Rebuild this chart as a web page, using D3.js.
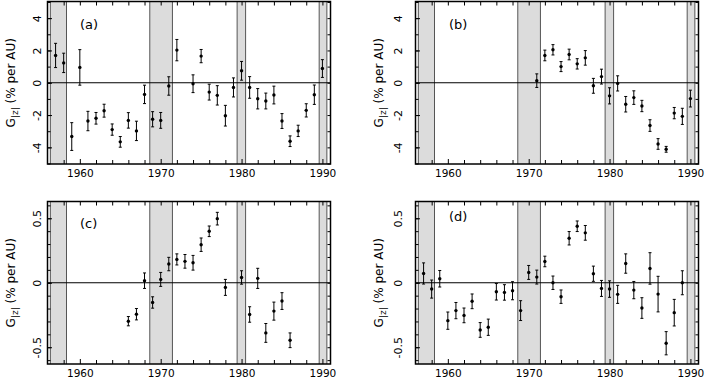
<!DOCTYPE html>
<html>
<head>
<meta charset="utf-8">
<script src="https://cdn.jsdelivr.net/npm/d3@7"></script>
<style>
  body { margin: 0; background: #fff; }
  svg text { font-family: "DejaVu Sans", sans-serif; fill: #000; }
</style>
</head>
<body>
<svg width="707" height="381"></svg>
<script>
// annual gradient values, panel (a)
var yearsA = [1957,1958,1959,1960,1961,1962,1963,1964,1965,1966,1967,1968,1969,1970,1971,1972,
              1974,1975,1976,1977,1978,1979,1980,1981,1982,1983,1984,1985,1986,1987,1988,1989,1990];
var valuesA = [1.69,1.23,-3.33,0.95,-2.37,-2.2,-1.73,-2.9,-3.66,-2.33,-2.98,-0.72,-2.26,-2.33,-0.2,2.02,
               -0.06,1.65,-0.58,-0.78,-2.04,-0.29,0.74,-0.29,-0.99,-1.13,-0.76,-2.37,-3.62,-2.98,-1.71,-0.74,0.88];
var errorsA = [0.75,0.6,0.86,1.1,0.6,0.36,0.4,0.35,0.33,0.48,0.6,0.57,0.47,0.49,0.57,0.66,
               0.55,0.41,0.49,0.6,0.64,0.59,0.58,0.67,0.63,0.49,0.55,0.46,0.33,0.35,0.41,0.6,0.55];

// panel (b)
var yearsB = [1971,1972,1973,1974,1975,1976,1977,1978,1979,1980,1981,1982,1983,1984,1985,1986,1987,1988,1989,1990];
var valuesB = [0.13,1.69,2.04,1.0,1.75,1.17,1.54,-0.19,0.38,-0.81,-0.04,-1.33,-0.92,-1.44,-2.65,-3.79,-4.12,-1.88,-2.08,-0.98];
var errorsB = [0.42,0.33,0.32,0.31,0.33,0.32,0.45,0.46,0.46,0.5,0.47,0.48,0.42,0.35,0.36,0.33,0.18,0.35,0.5,0.52];

// panel (c)
var yearsC = [1966,1967,1968,1969,1970,1971,1972,1973,1974,1975,1976,1977,1978,1980,1981,1982,1983,1984,1985,1986];
var valuesC = [-0.298,-0.244,0.016,-0.153,0.026,0.145,0.181,0.166,0.155,0.295,0.399,0.497,-0.036,
               0.041,-0.246,0.034,-0.389,-0.22,-0.142,-0.446];
var errorsC = [0.036,0.044,0.06,0.044,0.054,0.052,0.043,0.053,0.057,0.052,0.041,0.049,0.062,
               0.052,0.06,0.078,0.073,0.07,0.065,0.057];

// panel (d)
var yearsD = [1957,1958,1959,1960,1961,1962,1963,1964,1965,1966,1967,1968,1969,1970,1971,1972,1973,
              1974,1975,1976,1977,1978,1979,1980,1981,1982,1983,1984,1985,1986,1987,1988,1989];
var valuesD = [0.072,-0.049,0.031,-0.294,-0.216,-0.253,-0.144,-0.366,-0.345,-0.07,-0.075,-0.062,-0.216,
               0.08,0.044,0.165,0.0,-0.108,0.345,0.438,0.387,0.07,-0.044,-0.049,-0.09,0.149,-0.057,
               -0.196,0.111,-0.088,-0.469,-0.232,0.0];
var errorsD = [0.082,0.07,0.064,0.067,0.063,0.057,0.057,0.057,0.063,0.064,0.06,0.07,0.077,0.054,0.054,
               0.041,0.052,0.052,0.052,0.041,0.057,0.059,0.062,0.064,0.07,0.075,0.067,0.08,0.122,0.138,
               0.09,0.103,0.093];

// shaded periods (years)
var bands = [[1956.35, 1958.35], [1968.65, 1971.45], [1979.45, 1980.5], [1989.6, 1990.55]];

var xMinorYears = [1958, 1962, 1964, 1966, 1968, 1972, 1974, 1976, 1978, 1982, 1984, 1986, 1988];
var xLabelYears = [1960, 1970, 1980, 1990];

var svg = d3.select('svg');
var panelW = 283, panelH = 162.5;

var panels = [
  {tag: '(a)', years: yearsA, values: valuesA, errors: errorsA, left: 47.5, top: 1.5, yMax: 5.03,
   yMinor: d3.range(-5, 6, 1), yMajor: [-4, -2, 0, 2, 4], labelGap: 7, tagX: 32.5, tagY: 27},
  {tag: '(b)', years: yearsB, values: valuesB, errors: errorsB, left: 415.5, top: 1.5, yMax: 5.03,
   yMinor: d3.range(-5, 6, 1), yMajor: [-4, -2, 0, 2, 4], labelGap: 13.5, tagX: 33.5, tagY: 27},
  {tag: '(c)', years: yearsC, values: valuesC, errors: errorsC, left: 47.5, top: 201.5, yMax: 0.63,
   yMinor: d3.range(-6, 7, 1).map(function(d) { return d / 10; }), yMajor: [-0.5, 0, 0.5], labelGap: 7, tagX: 32.5, tagY: 26.5},
  {tag: '(d)', years: yearsD, values: valuesD, errors: errorsD, left: 415.5, top: 201.5, yMax: 0.63,
   yMinor: d3.range(-6, 7, 1).map(function(d) { return d / 10; }), yMajor: [-0.5, 0, 0.5], labelGap: 13.5, tagX: 33.5, tagY: 19}
];

function noDomain(sel) { sel.select('.domain').remove(); sel.selectAll('line').attr('stroke', '#000'); }

panels.forEach(function(p) {
  var x = d3.scaleLinear().domain([1956, 1991]).range([0, panelW]);
  var y = d3.scaleLinear().domain([-p.yMax, p.yMax]).range([panelH, 0]);
  var g = svg.append('g').attr('transform', 'translate(' + p.left + ',' + p.top + ')');

  // shaded periods
  g.selectAll('rect.band').data(bands).enter().append('rect')
    .attr('class', 'band')
    .attr('x', function(d) { return x(d[0]); })
    .attr('width', function(d) { return x(d[1]) - x(d[0]); })
    .attr('y', 0).attr('height', panelH)
    .attr('fill', '#dcdcdc');
  g.selectAll('line.edge').data(d3.merge(bands)).enter().append('line')
    .attr('class', 'edge')
    .attr('x1', function(d) { return x(d); }).attr('x2', function(d) { return x(d); })
    .attr('y1', 0).attr('y2', panelH)
    .attr('stroke', '#555').attr('stroke-width', 1);

  // zero line
  g.append('line')
    .attr('x1', 0).attr('x2', panelW).attr('y1', y(0)).attr('y2', y(0))
    .attr('stroke', '#000').attr('stroke-width', 1);

  // x ticks, bottom and top
  g.append('g').attr('transform', 'translate(0,' + panelH + ')')
    .call(d3.axisBottom(x).tickValues(xMinorYears).tickSize(-4).tickFormat(''))
    .call(noDomain);
  var xb = g.append('g').attr('transform', 'translate(0,' + panelH + ')')
    .call(d3.axisBottom(x).tickValues(xLabelYears).tickSize(-5).tickPadding(6).tickFormat(d3.format('d')))
    .call(noDomain);
  xb.selectAll('text').attr('font-size', 10.5).attr('font-family', '"DejaVu Sans", sans-serif');
  g.append('g')
    .call(d3.axisTop(x).tickValues(xMinorYears.concat(xLabelYears)).tickSize(-4).tickFormat(''))
    .call(noDomain);

  // y ticks, left and right
  g.append('g')
    .call(d3.axisLeft(y).tickValues(p.yMinor).tickSize(-3).tickFormat(''))
    .call(noDomain);
  var yl = g.append('g')
    .call(d3.axisLeft(y).tickValues(p.yMajor).tickSize(-4.5).tickFormat(function(d) { return String(d); }))
    .call(noDomain);
  yl.selectAll('text')
    .attr('x', null).attr('dy', null)
    .attr('text-anchor', 'middle')
    .attr('font-size', 11).attr('font-family', '"DejaVu Sans", sans-serif')
    .attr('transform', 'translate(' + (-p.labelGap) + ',0) rotate(-90)');
  g.append('g').attr('transform', 'translate(' + panelW + ',0)')
    .call(d3.axisRight(y).tickValues(p.yMinor).tickSize(-3).tickFormat(''))
    .call(noDomain);

  // frame
  g.append('rect')
    .attr('width', panelW).attr('height', panelH)
    .attr('fill', 'none').attr('stroke', '#000').attr('stroke-width', 1.5);

  // error bars and points
  var pts = p.years.map(function(yr, i) { return {year: yr, value: p.values[i], err: p.errors[i]}; });
  var pg = g.selectAll('g.pt').data(pts).enter().append('g').attr('class', 'pt');
  pg.append('line')
    .attr('x1', function(d) { return x(d.year); }).attr('x2', function(d) { return x(d.year); })
    .attr('y1', function(d) { return y(d.value - d.err); })
    .attr('y2', function(d) { return y(d.value + d.err); })
    .attr('stroke', '#000').attr('stroke-width', 1);
  [-1, 1].forEach(function(s) {
    pg.append('line')
      .attr('x1', function(d) { return x(d.year) - 1.5; }).attr('x2', function(d) { return x(d.year) + 1.5; })
      .attr('y1', function(d) { return y(d.value + s * d.err); })
      .attr('y2', function(d) { return y(d.value + s * d.err); })
      .attr('stroke', '#000').attr('stroke-width', 1);
  });
  pg.append('circle')
    .attr('cx', function(d) { return x(d.year); })
    .attr('cy', function(d) { return y(d.value); })
    .attr('r', 1.7).attr('fill', '#000');

  // panel tag
  g.append('text')
    .attr('x', p.tagX).attr('y', p.tagY)
    .attr('font-family', '"Liberation Sans", Arial, sans-serif').attr('font-size', 13)
    .text(p.tag);

  // y title
  var t = g.append('text')
    .attr('text-anchor', 'middle')
    .attr('font-size', 12)
    .attr('transform', 'translate(-33,' + (panelH / 2) + ') rotate(-90)');
  t.append('tspan').text('G');
  t.append('tspan').attr('font-size', 9).attr('dy', 3).text('|z|');
  t.append('tspan').attr('dy', -3).text(' (% per AU)');
});
</script>
</body>
</html>
